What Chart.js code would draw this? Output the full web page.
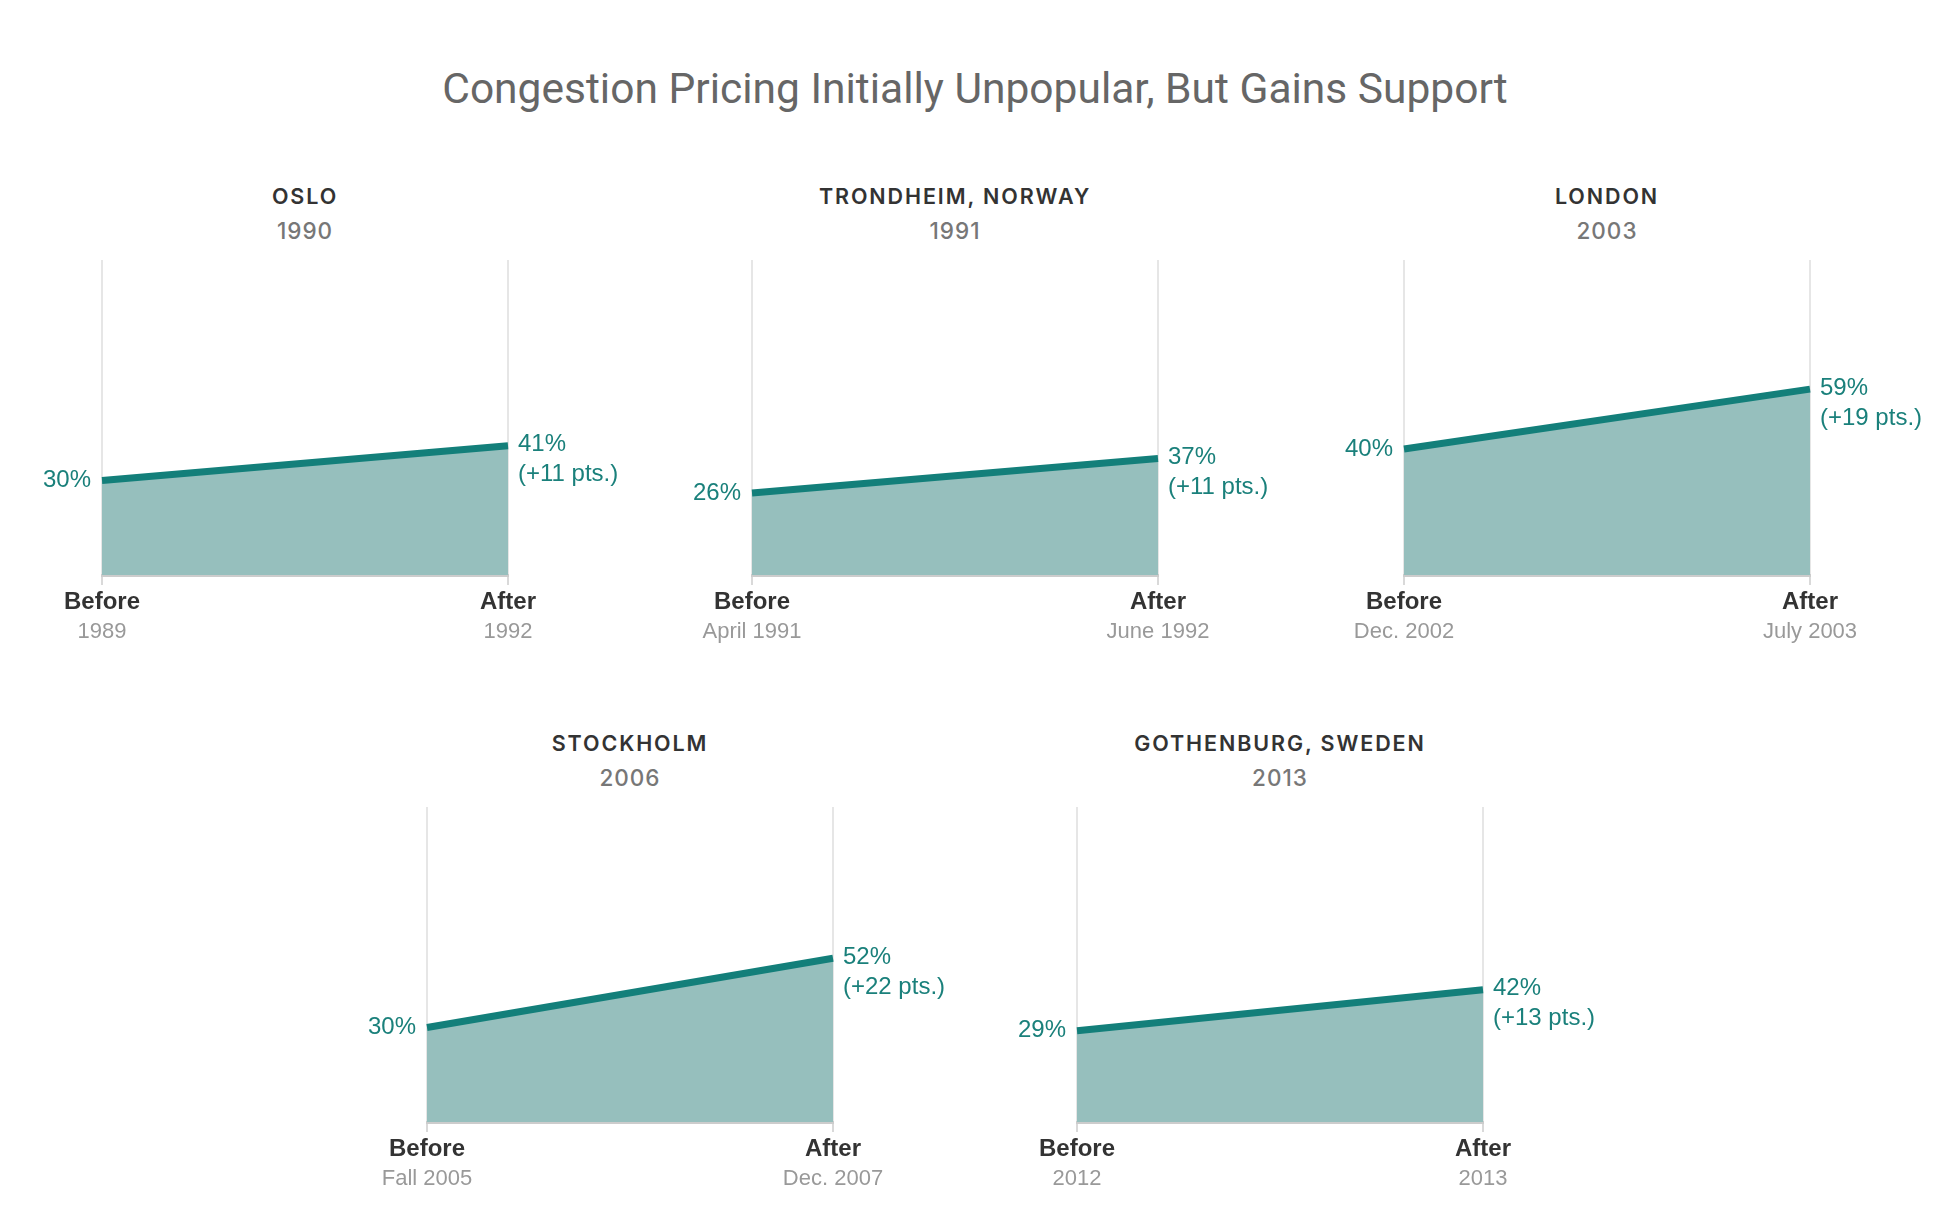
<!DOCTYPE html>
<html>
<head>
<meta charset="utf-8">
<script src="https://cdn.jsdelivr.net/npm/chart.js@4"></script>
<style>
  html, body { margin:0; padding:0; background:#fff; }
  body { width:1958px; height:1210px; position:relative; overflow:hidden; }
  #title { position:absolute; left:0; width:1950px; top:64px; text-align:center;
    font-family:Roboto, "Open Sans", sans-serif; font-size:42.5px; color:#666; font-weight:400; }
  .ptitle { position:absolute; width:500px; text-align:center; font-family:Inter, Roboto, sans-serif; }
  .pname { font-size:21.5px; font-weight:600; letter-spacing:1.9px; color:#333; }
  .pyear { font-size:22.5px; font-weight:500; letter-spacing:1px; color:#777; margin-top:8px; }
  canvas { position:absolute; }
</style>
</head>
<body>
<div id="title">Congestion Pricing Initially Unpopular, But Gains Support</div>
<script>
// ---- data ----
const cities = ["OSLO", "TRONDHEIM, NORWAY", "LONDON", "STOCKHOLM", "GOTHENBURG, SWEDEN"];
const startYears = ["1990", "1991", "2003", "2006", "2013"];
const phaseLabels = ["Before", "After"];
const beforeValues = [30, 26, 40, 30, 29];
const afterValues = [41, 37, 59, 52, 42];
const beforeDates = ["1989", "April 1991", "Dec. 2002", "Fall 2005", "2012"];
const afterDates = ["1992", "June 1992", "July 2003", "Dec. 2007", "2013"];

// ---- layout ----
const plotPos = [[102, 260], [752, 260], [1404, 260], [427, 807], [1077, 807]];
const plotW = 406, plotH = 315, padL = 90, padR = 150, padT = 10, bottomSpace = 80;
const teal = "#137f7a", tealText = "#1a807b", fillCol = "#96bfbd";

const labelPlugin = {
  id: "labels",
  afterDatasetsDraw(chart) {
    const i = chart.options.plugins.labels.index;
    const ctx = chart.ctx;
    const pts = chart.getDatasetMeta(0).data;
    const xs = chart.scales.x;
    const bottom = chart.chartArea.bottom;
    ctx.save();
    ctx.textBaseline = "middle";
    ctx.fillStyle = tealText;
    ctx.font = "24px 'Liberation Sans', Arial, sans-serif";
    ctx.textAlign = "right";
    ctx.fillText(beforeValues[i] + "%", pts[0].x - 11, pts[0].y);
    ctx.textAlign = "left";
    ctx.fillText(afterValues[i] + "%", pts[1].x + 10, pts[1].y - 1);
    ctx.fillText("(+" + (afterValues[i] - beforeValues[i]) + " pts.)", pts[1].x + 10, pts[1].y + 29);
    ctx.textAlign = "center";
    for (let k = 0; k < 2; k++) {
      const x = xs.getPixelForValue(k);
      ctx.fillStyle = "#333";
      ctx.font = "bold 24px 'Liberation Sans', Arial, sans-serif";
      ctx.fillText(phaseLabels[k], x, bottom + 27);
      ctx.fillStyle = "#999";
      ctx.font = "22px 'Liberation Sans', Arial, sans-serif";
      ctx.fillText(k === 0 ? beforeDates[i] : afterDates[i], x, bottom + 57);
    }
    ctx.restore();
  }
};

cities.forEach((city, i) => {
  const [px, py] = plotPos[i];
  const t = document.createElement("div");
  t.className = "ptitle";
  t.style.left = (px + plotW / 2 - 250) + "px";
  t.style.top = (py - 77) + "px";
  t.innerHTML = '<div class="pname"></div><div class="pyear"></div>';
  t.querySelector(".pname").textContent = city;
  t.querySelector(".pyear").textContent = startYears[i];
  document.body.appendChild(t);

  const c = document.createElement("canvas");
  const cw = padL + plotW + padR, chh = padT + plotH + bottomSpace;
  c.width = cw; c.height = chh;
  c.style.width = cw + "px"; c.style.height = chh + "px";
  c.style.left = (px - padL) + "px";
  c.style.top = (py - padT) + "px";
  document.body.appendChild(c);

  new Chart(c, {
    type: "line",
    data: {
      labels: phaseLabels,
      datasets: [{
        data: [beforeValues[i], afterValues[i]],
        borderColor: teal,
        borderWidth: 7,
        backgroundColor: fillCol,
        fill: "origin",
        pointRadius: 0,
        tension: 0
      }]
    },
    options: {
      responsive: false,
      animation: false,
      devicePixelRatio: 1,
      layout: { padding: { left: padL, right: padR, top: padT, bottom: 0 } },
      plugins: { legend: { display: false }, tooltip: { enabled: false }, labels: { index: i } },
      scales: {
        x: {
          type: "category",
          offset: false,
          ticks: { display: false },
          grid: { color: "#e6e6e6", lineWidth: 2, drawTicks: true, tickLength: 10, tickColor: "#d9d9d9", tickWidth: 2 },
          border: { display: true, color: "#cccccc", width: 3 },
          afterFit: s => { s.height = bottomSpace; }
        },
        y: { display: false, min: 0, max: 100 }
      }
    },
    plugins: [labelPlugin]
  });
});
</script>
</body>
</html>
